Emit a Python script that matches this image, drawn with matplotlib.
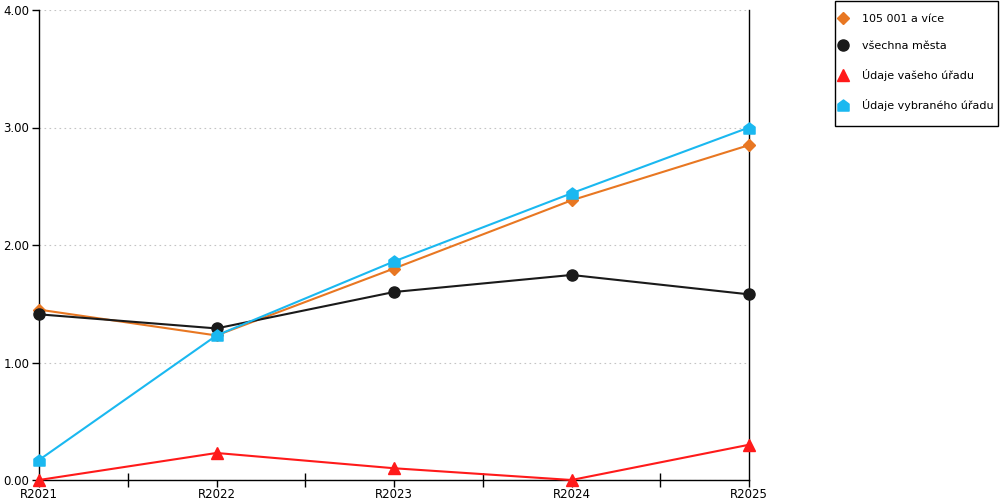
import numpy as np
import matplotlib.pyplot as plt
from matplotlib.path import Path
from matplotlib.patches import Rectangle
from matplotlib.ticker import FixedLocator, FormatStrFormatter

# data
years = ['R2021', 'R2022', 'R2023', 'R2024', 'R2025']
mesta_velka = [1.45, 1.23, 1.80, 2.38, 2.85]      # 105 001 a více
vsechna_mesta = [1.41, 1.29, 1.60, 1.745, 1.58]
vas_urad = [0.0, 0.23, 0.10, 0.0, 0.30]
vybrany_urad = [0.17, 1.23, 1.86, 2.44, 3.00]

# house shaped marker for the last series
house = Path([(-1, -1), (1, -1), (1, 0.25), (0, 1), (-1, 0.25), (-1, -1)],
             [Path.MOVETO, Path.LINETO, Path.LINETO, Path.LINETO, Path.LINETO, Path.CLOSEPOLY])

fig = plt.figure(figsize=(10, 5), dpi=100)
ax = fig.add_axes([0.039, 0.04, 0.71, 0.94])

x = np.arange(len(years))
ax.plot(x, mesta_velka, color='#e87722', lw=1.5, marker='D', ms=6, label='105 001 a více', clip_on=False, zorder=3)
ax.plot(x, vsechna_mesta, color='#1a1a1a', lw=1.5, marker='o', ms=8, label='všechna města', clip_on=False, zorder=3)
ax.plot(x, vas_urad, color='#ff1a1a', lw=1.5, marker='^', ms=9, label='Údaje vašeho úřadu', clip_on=False, zorder=3)
ax.plot(x, vybrany_urad, color='#1ab8f0', lw=1.5, marker=house, ms=8, label='Údaje vybraného úřadu', clip_on=False, zorder=3)

ax.set_xlim(0, len(years) - 1)
ax.set_ylim(0, 4)
ax.set_xticks(x)
ax.set_xticklabels(years)
ax.xaxis.set_minor_locator(FixedLocator(x[:-1] + 0.5))
ax.set_yticks([0, 1, 2, 3, 4])
ax.yaxis.set_major_formatter(FormatStrFormatter('%.2f'))
ax.tick_params(axis='both', labelsize=8.5, color='black', width=1)
ax.tick_params(axis='x', which='major', direction='out', length=5, pad=1)
ax.tick_params(axis='x', which='minor', direction='inout', length=10, width=1)
ax.tick_params(axis='y', direction='out', length=5, pad=2)

ax.grid(axis='y', color='#c4c4c4', linestyle=(0, (1.5, 3)), lw=0.8)
ax.set_axisbelow(True)
ax.spines['top'].set_visible(False)
for s in ['left', 'bottom', 'right']:
    ax.spines[s].set_color('black')
    ax.spines[s].set_linewidth(1)

# legend box drawn by hand, legend itself without frame
fig.patches.append(Rectangle((0.835, 0.748), 0.163, 0.25, transform=fig.transFigure,
                             fill=False, edgecolor='black', lw=1))
handles, labels = ax.get_legend_handles_labels()
leg = fig.legend(handles, labels, loc='upper left', bbox_to_anchor=(0.839, 0.973),
                 frameon=False, fontsize=8,
                 handlelength=0.7, handletextpad=1.37, labelspacing=1.6,
                 borderpad=0, borderaxespad=0)
for line in leg.get_lines():
    line.set_linestyle('none')

plt.savefig('out.png', dpi=100)
